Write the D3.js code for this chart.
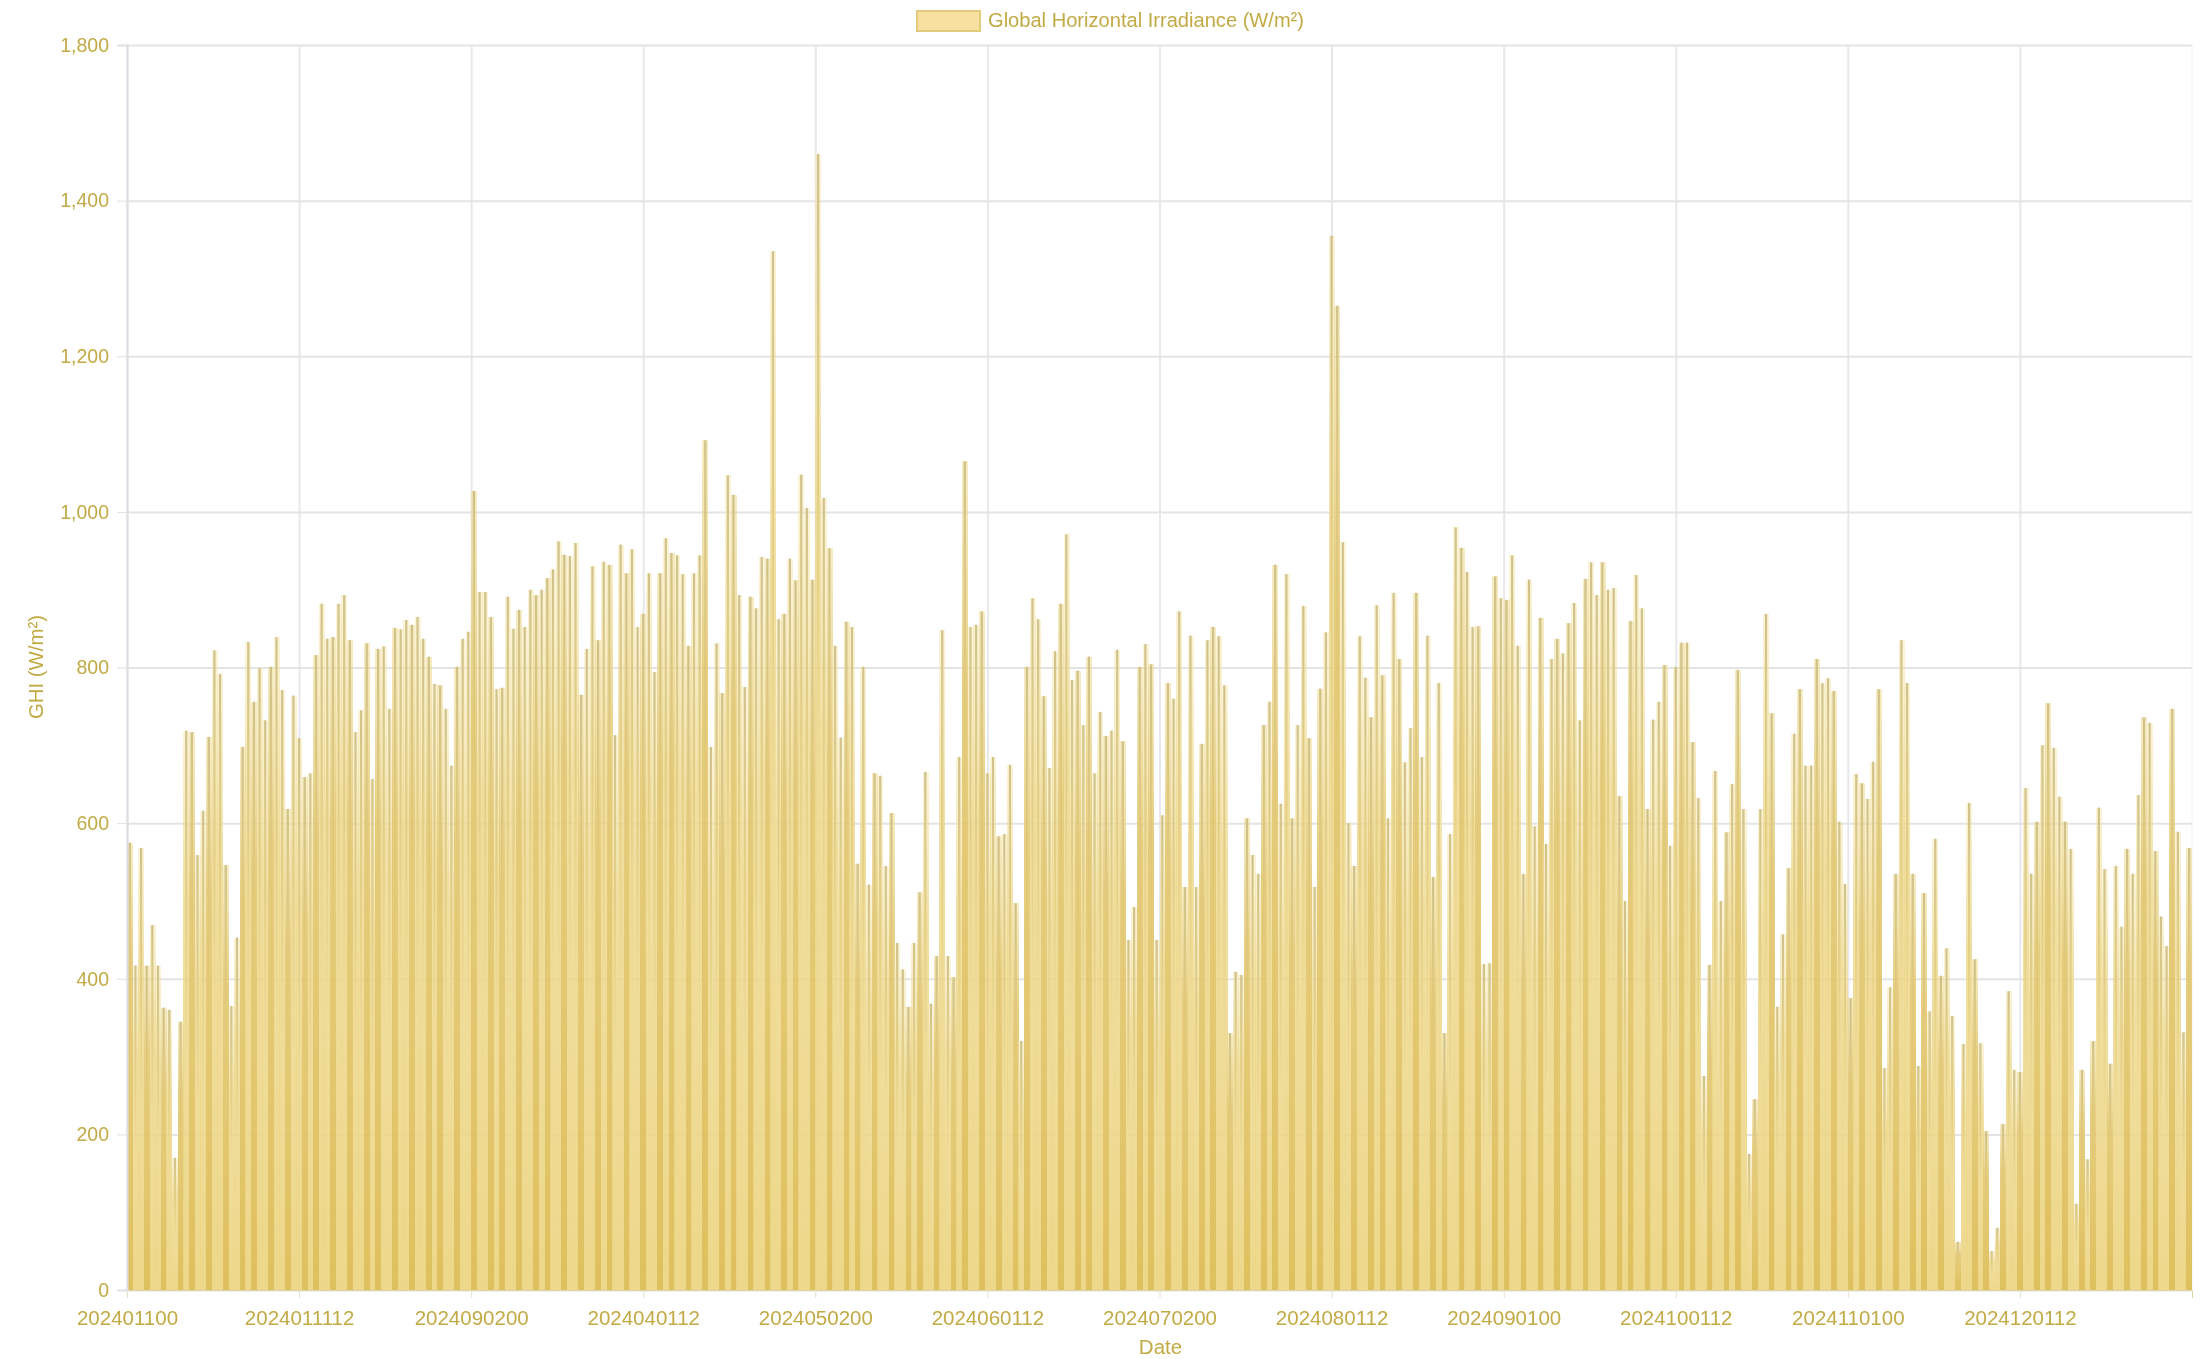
<!DOCTYPE html>
<html>
<head>
<meta charset="utf-8">
<script src="https://cdn.jsdelivr.net/npm/d3@7"></script>
<style>
  html, body { margin: 0; background: #fff; }
  svg { display: block; }
  text { font-family: "Liberation Sans", Arial, sans-serif; fill: #c2aa45; }
</style>
</head>
<body>
<svg width="2210" height="1359"></svg>
<script>
var legendLabel = 'Global Horizontal Irradiance (W/m²)'
var xTitle = 'Date'
var yTitle = 'GHI (W/m²)'

var xTickDays = [0, 30.5, 61, 91.5, 122, 152.5, 183, 213.5, 244, 274.5, 305, 335.5]
var xTickLabels = ['202401100', '2024011112', '2024090200', '2024040112', '2024050200', '2024060112',
                   '2024070200', '2024080112', '2024090100', '2024100112', '2024110100', '2024120112']
var yTicks = [0, 200, 400, 600, 800, 1000, 1200, 1400, 1600]
var yTickLabels = ['0', '200', '400', '600', '800', '1,000', '1,200', '1,400', '1,800']

// daily peak GHI
var dailyGhi = [
  575,417,568,417,469,417,363,360,170,345, 719,717,559,616,711,822,792,546,365,453,
  698,833,756,799,732,801,839,771,618,764, 709,659,664,816,882,837,839,882,893,835,
  717,745,831,657,824,827,747,851,849,861, 855,865,837,814,779,777,747,674,801,837,
  846,1027,897,897,865,772,774,891,850,874, 852,900,893,900,915,926,962,945,943,960,
  765,824,930,835,936,932,713,958,921,952, 852,869,921,794,921,966,947,944,920,828,
  921,944,1092,698,831,767,1047,1022,893,775, 891,876,942,940,1335,862,869,940,912,1048,
  1005,913,1460,1018,953,828,710,859,852,548, 801,521,664,661,545,613,446,412,364,446,
  511,666,368,429,848,429,402,685,1065,852, 855,872,664,685,583,586,675,497,320,801,
  889,862,763,671,821,882,971,784,796,726, 814,664,743,712,719,823,705,450,492,801,
  830,804,450,610,780,760,872,518,841,518, 702,835,852,840,777,330,409,405,606,559,
  535,726,756,932,625,920,606,726,879,709, 518,773,845,1355,1265,961,600,545,840,787,
  736,880,790,606,896,811,678,722,896,685, 841,531,780,330,586,980,954,923,852,853,
  419,420,917,889,887,944,828,535,913,596, 864,573,811,837,818,857,883,732,914,935,
  893,935,900,902,635,500,860,919,876,618, 733,756,803,571,801,832,832,704,632,275,
  418,667,500,588,650,797,618,175,245,618, 869,741,364,457,542,715,772,674,674,811,
  780,786,770,602,522,375,663,651,631,679, 772,285,389,535,835,780,535,288,510,358,
  580,404,439,352,62,316,626,425,317,204, 50,80,213,384,283,280,645,535,602,700,
  754,697,634,602,567,111,283,168,320,620, 541,291,545,467,567,535,636,736,729,564,
  480,442,747,589,331,568
]

var svg = d3.select('svg')
var plotLeft = 127, plotRight = 2192, plotTop = 45, plotBottom = 1290

var x = d3.scaleLinear().domain([0, dailyGhi.length]).range([plotLeft, plotRight])
var y = d3.scaleLinear().domain([0, 1600]).range([plotBottom, plotTop])
var band = d3.scaleBand().domain(d3.range(dailyGhi.length)).range([plotLeft, plotRight])

// the original has banding across the bars, every 2.74 days or so
function isBanded(i) {
  return Math.floor(i / 2.74) !== Math.floor((i - 1) / 2.74)
}

var defs = svg.append('defs')
defs.append('filter').attr('id', 'soft').append('feGaussianBlur').attr('stdDeviation', 0.7)
defs.append('filter').attr('id', 'softText').append('feGaussianBlur').attr('stdDeviation', 0.45)

function fade(id, stops) {
  var g = defs.append('linearGradient').attr('id', id).attr('x1', 0).attr('x2', 0).attr('y1', 0).attr('y2', 1)
  stops.forEach(function(s) {
    g.append('stop').attr('offset', s[0]).attr('stop-color', s[1]).attr('stop-opacity', s[2])
  })
}

fade('bodyFade', [['0%', '#f6e6a8', 0.45], ['30%', '#eed98e', 0.82], ['100%', '#ecd584', 0.95]])
fade('bandFade', [['0%', '#f0dc92', 0.55], ['28%', '#e4c872', 0.9], ['100%', '#dfc05e', 1]])
fade('coreFade', [['0%', '#cbbc82', 0.9], ['28%', '#dcc678', 0.7], ['60%', '#e2c566', 0]])

// grid, through the axes
svg.append('g')
    .attr('class', 'xgrid')
    .attr('transform', 'translate(0,' + plotBottom + ')')
    .call(d3.axisBottom(x).tickValues(xTickDays).tickSize(-(plotBottom - plotTop)).tickFormat(''))
    .call(function(g) { g.select('.domain').remove() })
    .selectAll('line').attr('stroke', '#e8e8ec').attr('stroke-width', 2)

svg.append('g')
    .attr('class', 'ygrid')
    .attr('transform', 'translate(' + plotLeft + ',0)')
    .call(d3.axisLeft(y).tickValues(yTicks).tickSize(-(plotRight - plotLeft)).tickFormat(''))
    .call(function(g) { g.select('.domain').remove() })
    .selectAll('line').attr('stroke', '#e4e4e4').attr('stroke-width', 2)

svg.append('line')
    .attr('x1', plotRight).attr('x2', plotRight).attr('y1', plotTop).attr('y2', plotBottom)
    .attr('stroke', '#f0f0f0')

var bars = svg.append('g').attr('filter', 'url(#soft)')

bars.selectAll('rect.body')
    .data(dailyGhi)
    .enter()
    .append('rect')
    .attr('class', 'body')
    .attr('x', function(d, i) { return band(i) })
    .attr('width', 6)
    .attr('y', function(d) { return y(d) })
    .attr('height', function(d) { return plotBottom - y(d) })
    .attr('fill', function(d, i) { return isBanded(i) ? 'url(#bandFade)' : 'url(#bodyFade)' })
    .attr('shape-rendering', 'crispEdges')

bars.selectAll('rect.core')
    .data(dailyGhi)
    .enter()
    .append('rect')
    .attr('class', 'core')
    .attr('x', function(d, i) { return band(i) + 1.7 })
    .attr('width', 2.2)
    .attr('y', function(d) { return y(d) })
    .attr('height', function(d) { return plotBottom - y(d) })
    .attr('fill', 'url(#coreFade)')

// axis labels
var labels = svg.append('g').attr('filter', 'url(#softText)')

var xAxis = labels.append('g')
    .attr('transform', 'translate(0,' + plotBottom + ')')
    .call(d3.axisBottom(x).tickValues(xTickDays).tickSize(8).tickPadding(12)
      .tickFormat(function(d, i) { return xTickLabels[i] }))
xAxis.select('.domain').attr('stroke', '#dcd4a8')
xAxis.selectAll('line').attr('stroke', '#e4e0cc')
xAxis.selectAll('text').attr('font-size', 20.5).attr('fill', null)

var yAxis = labels.append('g')
    .attr('transform', 'translate(' + plotLeft + ',0)')
    .call(d3.axisLeft(y).tickValues(yTicks).tickSize(10).tickPadding(8)
      .tickFormat(function(d, i) { return yTickLabels[i] }))
yAxis.select('.domain').attr('stroke', '#dedee4').attr('stroke-width', 2)
yAxis.selectAll('line').attr('stroke', '#e0e0e0')
yAxis.selectAll('text').attr('font-size', 19.5).attr('fill', null)

labels.append('text')
    .attr('x', (plotLeft + plotRight) / 2 + 1).attr('y', 1354)
    .attr('text-anchor', 'middle').attr('font-size', 20.5)
    .text(xTitle)

labels.append('text')
    .attr('transform', 'translate(43,667) rotate(-90)')
    .attr('text-anchor', 'middle').attr('font-size', 20.4)
    .text(yTitle)

// legend
svg.append('rect')
    .attr('x', 917).attr('y', 11).attr('width', 63).attr('height', 20)
    .attr('fill', '#f7e0a0').attr('stroke', '#e2cb7c').attr('stroke-width', 2)

labels.append('text')
    .attr('x', 988).attr('y', 27).attr('font-size', 20.1)
    .text(legendLabel)
</script>
</body>
</html>
